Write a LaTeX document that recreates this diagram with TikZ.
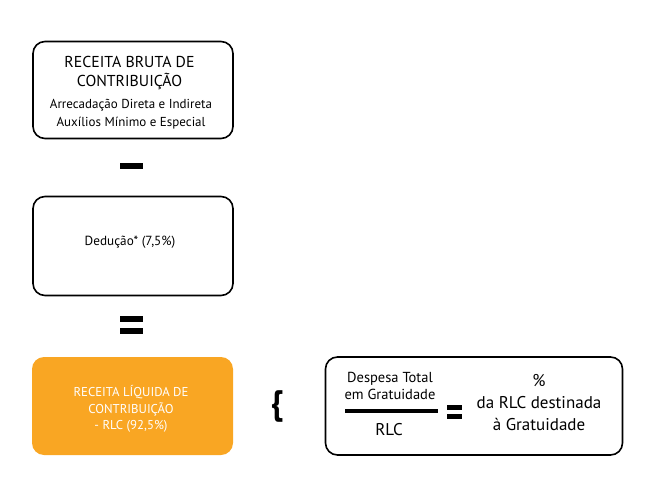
\documentclass[tikz,border=0pt]{standalone}
\usepackage{fontspec}
\setmainfont{PT Sans}
\definecolor{orng}{HTML}{F9A623}
\begin{document}
\begin{tikzpicture}[x=1pt,y=-1pt,
  box/.style={draw=black,line width=1.6pt,rounded corners=12pt,minimum width=200pt,inner sep=0pt},
  obox/.style={fill=orng,rounded corners=12pt,minimum width=201pt,minimum height=98pt,inner sep=0pt},
  bar/.style={fill=black,inner sep=0pt,minimum width=23pt,minimum height=6pt},
  txt/.style={align=center,inner sep=0pt}]
\useasboundingbox (0,0) rectangle (654,482);
% box 1
\node[box,minimum height=97pt] (b1) at (133,90) {};
\node[txt,font=\fontsize{15.8}{19.5}\selectfont] (t1) at (129.5,73) {RECEITA BRUTA DE\\CONTRIBUIÇÃO};
\node[txt,font=\fontsize{13}{18}\selectfont] (t2) at (131,114) {Arrecadação Direta e Indireta\\Auxílios Mínimo e Especial};
% minus
\node[bar] (minus) at (131.5,166) {};
% box 2
\node[box,minimum height=99pt] (b2) at (133,246) {};
\node[txt,font=\fontsize{13.2}{15}\selectfont] (t3) at (130,242) {Dedução* (7,5\%)};
% equals
\node[bar] (eq1) at (131.5,319) {};
\node[bar] (eq2) at (131.5,331) {};
% orange box
\node[obox] (b3) at (132.5,406) {};
\node[txt,text=white,font=\fontsize{12.8}{16.5}\selectfont] (t4) at (131,409) {RECEITA LÍQUIDA DE\\CONTRIBUIÇÃO\\- RLC (92,5\%)};
% brace
\node[txt,font=\fontsize{34}{34}\bfseries] (br) at (277,406) {\{};
% right box
\node[box,minimum width=297pt,minimum height=98pt] (b4) at (474,406) {};
\node[txt,font=\fontsize{14.5}{17.5}\selectfont] (f1) at (390,386) {Despesa Total\\em Gratuidade};
\draw[line width=3.5pt] (345,411) -- (438,411);
\node[txt,font=\fontsize{17}{17}\selectfont] (f2) at (389,430) {RLC};
\node[bar,minimum width=15pt,minimum height=5pt] (eq3) at (454.5,407.5) {};
\node[bar,minimum width=15pt,minimum height=5pt] (eq4) at (454.5,416.5) {};
\node[txt,font=\fontsize{17}{22}\selectfont] (r1) at (539,403) {\%\\da RLC destinada\\à Gratuidade};
\end{tikzpicture}
\end{document}
